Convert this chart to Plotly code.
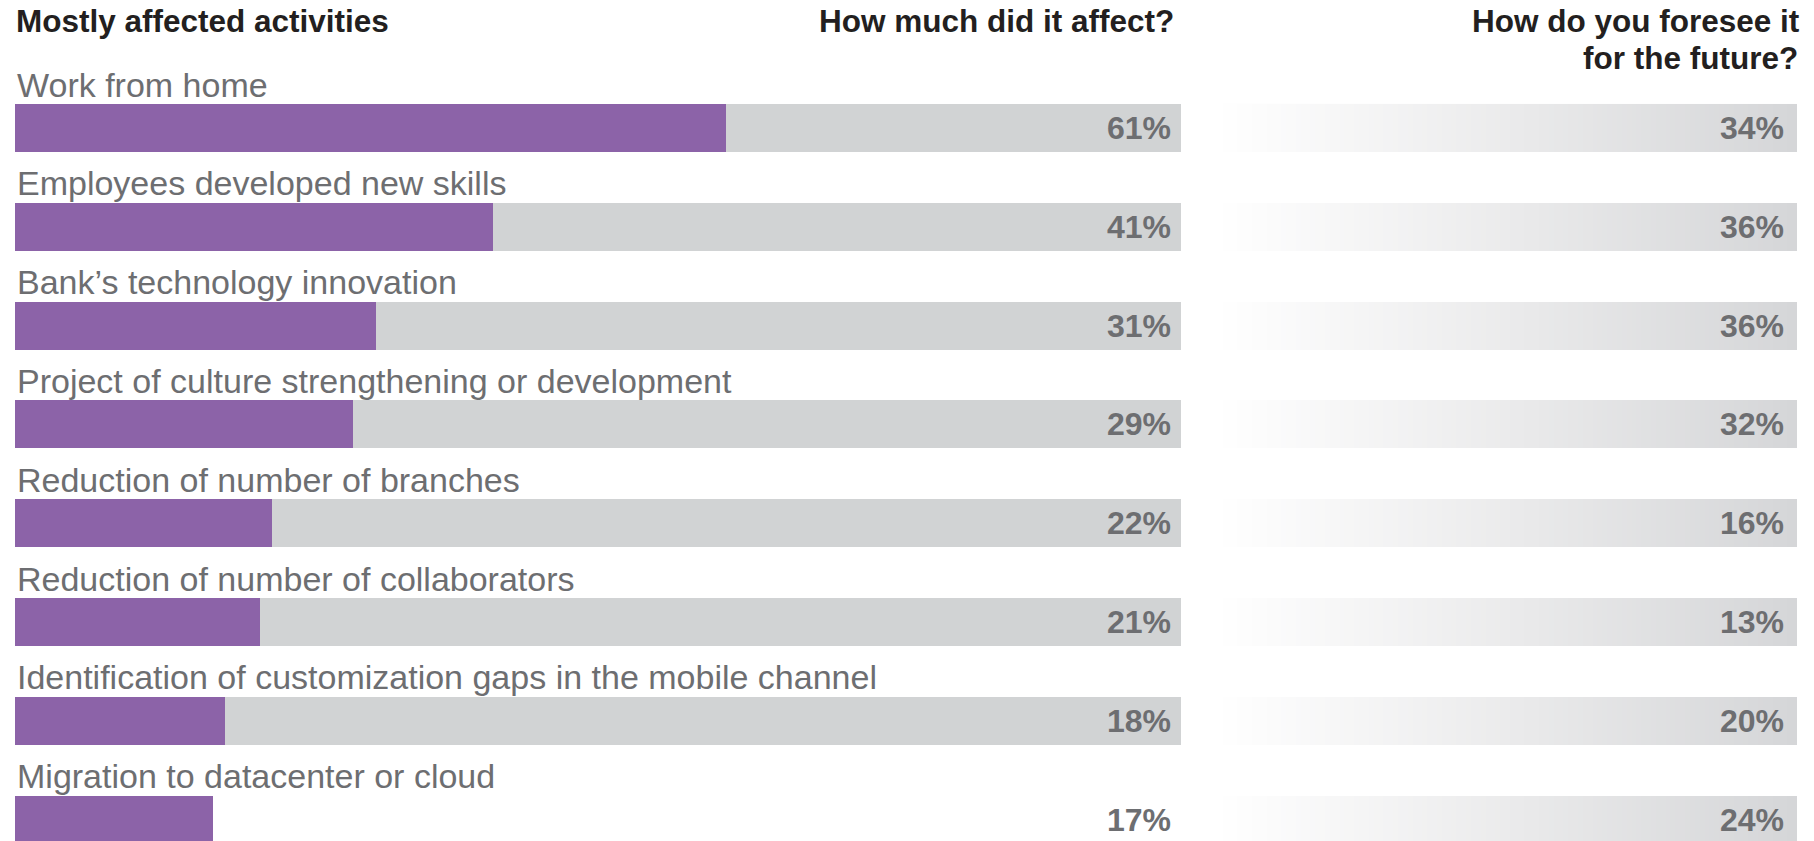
import plotly.graph_objects as go

# ---------------- data ----------------
categories = [
    "Work from home",
    "Employees developed new skills",
    "Bank’s technology innovation",
    "Project of culture strengthening or development",
    "Reduction of number of branches",
    "Reduction of number of collaborators",
    "Identification of customization gaps in the mobile channel",
    "Migration to datacenter or cloud",
]
affected = [61, 41, 31, 29, 22, 21, 18, 17]          # How much did it affect? (%)
future = [34, 36, 36, 32, 16, 13, 20, 24]            # How do you foresee it for the future? (%)
track_visible = [True, True, True, True, True, True, True, False]
track_max = 100

header_left = "Mostly affected activities"
header_mid = "How much did it affect?"
header_right_1 = "How do you foresee it"
header_right_2 = "for the future?"

# ---------------- styling / layout constants ----------------
W, H = 1814, 841
ROW0, STEP = 128.0, 98.8          # px centre of first row, px per row
BAR_H = 0.486                     # bar thickness in row units
PURPLE = "#8c63a8"
TRACK = "#d1d3d4"
GREY_TXT = "#6d6e71"
DARK_TXT = "#231f20"
FONT = "Liberation Sans, Arial, sans-serif"

rows = list(range(len(categories)))
y_range = [(H - ROW0) / STEP, -ROW0 / STEP]

left_dom = [15 / W, 1181 / W]
right_dom = [1213 / W, 1797 / W]

fig = go.Figure()

# grey tracks (left panel)
fig.add_trace(go.Bar(
    x=[track_max if v else None for v in track_visible], y=rows, orientation="h",
    width=BAR_H, marker=dict(color=TRACK, line=dict(width=0)),
    xaxis="x", yaxis="y", hoverinfo="skip", showlegend=False,
))
# purple bars (left panel)
fig.add_trace(go.Bar(
    x=affected, y=rows, orientation="h",
    width=BAR_H, marker=dict(color=PURPLE, line=dict(width=0)),
    xaxis="x", yaxis="y", hoverinfo="skip", showlegend=False,
))

# gradient bars (right panel) via heatmap bricks
NCOL = 120
x_edges = [k / NCOL for k in range(NCOL + 1)]
grad_row = [k for k in range(NCOL)]
y_edges, z = [], []
for i in rows:
    if i > 0:
        z.append([None] * NCOL)
    y_edges += [i - BAR_H / 2, i + BAR_H / 2]
    z.append(grad_row)
fig.add_trace(go.Heatmap(
    x=x_edges, y=y_edges, z=z, xaxis="x2", yaxis="y",
    colorscale=[[0, "#ffffff"], [0.5, "#ebebec"], [1, "#d5d6d8"]], showscale=False,
    hoverinfo="skip", zmin=0, zmax=NCOL - 1,
))

annotations = []
for i, (cat, a, f) in enumerate(zip(categories, affected, future)):
    annotations.append(dict(
        x=0, y=i - 0.44, xref="x", yref="y", text=cat, showarrow=False,
        xanchor="left", yanchor="middle",
        font=dict(family=FONT, size=34, color=GREY_TXT),
    ))
    annotations.append(dict(
        x=track_max, y=i, xref="x", yref="y", text=f"{a}%", showarrow=False,
        xanchor="right", yanchor="middle", xshift=-8,
        font=dict(family=FONT, size=32, color=GREY_TXT, weight="bold"),
    ))
    annotations.append(dict(
        x=1, y=i, xref="x2", yref="y", text=f"{f}%", showarrow=False,
        xanchor="right", yanchor="middle", xshift=-11,
        font=dict(family=FONT, size=32, color=GREY_TXT, weight="bold"),
    ))

hdr_font = dict(family=FONT, size=31.5, color=DARK_TXT, weight="bold")
annotations += [
    dict(x=14 / W, y=1 - 21 / H, xref="paper", yref="paper", text=header_left,
         showarrow=False, xanchor="left", yanchor="middle", font=hdr_font),
    dict(x=1176 / W, y=1 - 21 / H, xref="paper", yref="paper", text=header_mid,
         showarrow=False, xanchor="right", yanchor="middle", font=hdr_font),
    dict(x=1802 / W, y=1 - 21 / H, xref="paper", yref="paper", text=header_right_1,
         showarrow=False, xanchor="right", yanchor="middle", font=hdr_font),
    dict(x=1800 / W, y=1 - 58 / H, xref="paper", yref="paper", text=header_right_2,
         showarrow=False, xanchor="right", yanchor="middle", font=hdr_font),
]

fig.update_layout(
    width=W, height=H,
    margin=dict(l=0, r=0, t=0, b=0),
    paper_bgcolor="white", plot_bgcolor="white",
    barmode="overlay", bargap=0,
    showlegend=False,
    xaxis=dict(domain=left_dom, range=[0, track_max], visible=False, fixedrange=True),
    xaxis2=dict(domain=right_dom, range=[0, 1], visible=False, fixedrange=True),
    yaxis=dict(range=y_range, visible=False, fixedrange=True),
    annotations=annotations,
)

fig.write_html("out.html", config={"displayModeBar": False})
